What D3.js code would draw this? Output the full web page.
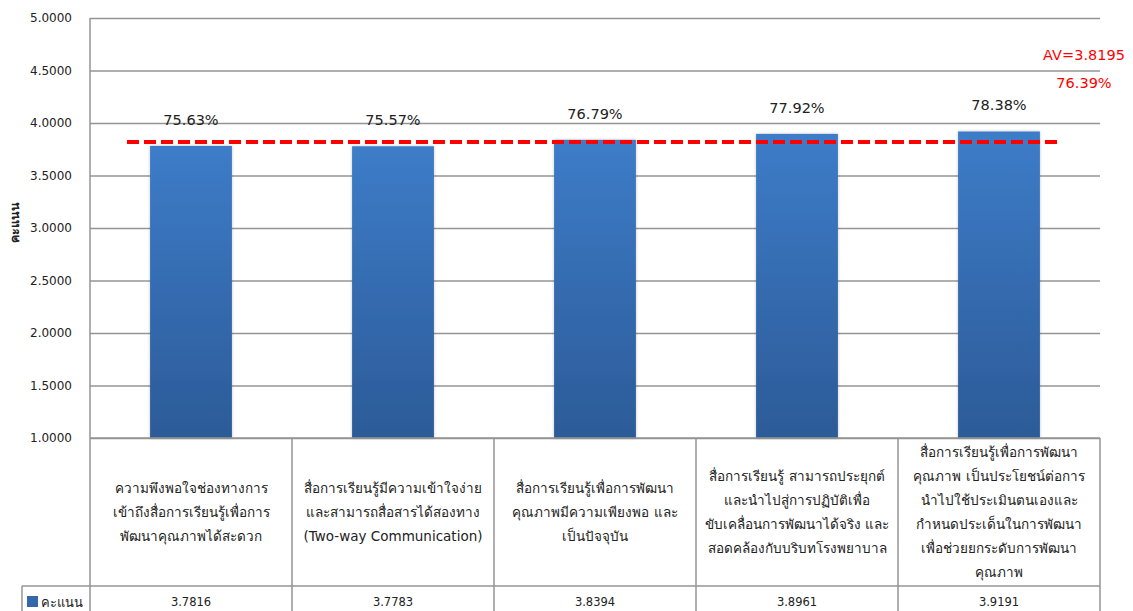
<!DOCTYPE html>
<html>
<head>
<meta charset="utf-8">
<script src="https://cdn.jsdelivr.net/npm/d3@7"></script>
<style>
  html, body { margin: 0; padding: 0; background: #ffffff; }
  svg { display: block; font-family: Tahoma, "DejaVu Sans", "Noto Sans", sans-serif; }
</style>
</head>
<body>
<svg id="chart" width="1133" height="611"></svg>
<script>
// Satisfaction scores per learning-media item (5-point scale)
const categories = [
  ["ความพึงพอใจช่องทางการ", "เข้าถึงสื่อการเรียนรู้เพื่อการ", "พัฒนาคุณภาพได้สะดวก"],
  ["สื่อการเรียนรู้มีความเข้าใจง่าย", "และสามารถสื่อสารได้สองทาง", "(Two-way Communication)"],
  ["สื่อการเรียนรู้เพื่อการพัฒนา", "คุณภาพมีความเพียงพอ และ", "เป็นปัจจุบัน"],
  ["สื่อการเรียนรู้ สามารถประยุกต์", "และนำไปสู่การปฏิบัติเพื่อ", "ขับเคลื่อนการพัฒนาได้จริง และ", "สอดคล้องกับบริบทโรงพยาบาล"],
  ["สื่อการเรียนรู้เพื่อการพัฒนา", "คุณภาพ เป็นประโยชน์ต่อการ", "นำไปใช้ประเมินตนเองและ", "กำหนดประเด็นในการพัฒนา", "เพื่อช่วยยกระดับการพัฒนา", "คุณภาพ"]
];
const values = [3.7816, 3.7783, 3.8394, 3.8961, 3.9191];
const valueLabels = ["3.7816", "3.7783", "3.8394", "3.8961", "3.9191"];
const percentLabels = ["75.63%", "75.57%", "76.79%", "77.92%", "78.38%"];
const yTicks = [1.0, 1.5, 2.0, 2.5, 3.0, 3.5, 4.0, 4.5, 5.0];
const seriesName = "คะแนน";
const average = 3.8195;
const averageLabel = "AV=3.8195";
const averagePercent = "76.39%";

const svg = d3.select("#chart");
const plotLeft = 90, plotRight = 1100, plotTop = 18, plotBottom = 438;
const tableRow = 586, tableBottom = 611, legendLeft = 22;

const y = d3.scaleLinear().domain([1, 5]).range([plotBottom, plotTop]);
const x = d3.scaleBand().domain(d3.range(categories.length)).range([plotLeft, plotRight]).padding(0);
const barW = x.bandwidth() * 0.405;

const defs = svg.append("defs");
const grad = defs.append("linearGradient").attr("id", "barFill")
  .attr("x1", 0).attr("y1", 0).attr("x2", 0).attr("y2", 1);
grad.append("stop").attr("offset", "0%").attr("stop-color", "#3d7cc8");
grad.append("stop").attr("offset", "100%").attr("stop-color", "#2c5b98");
const shadow = defs.append("filter").attr("id", "barShadow")
  .attr("x", "-20%").attr("y", "-5%").attr("width", "140%").attr("height", "110%");
shadow.append("feDropShadow").attr("dx", 0).attr("dy", 0)
  .attr("stdDeviation", 1.6).attr("flood-color", "#000").attr("flood-opacity", 0.25);

const gridColor = "#959595";

// Horizontal gridlines + y axis labels
const yAxis = d3.axisLeft(y).tickValues(yTicks).tickFormat(d3.format(".4f"))
  .tickSize(-(plotRight - plotLeft)).tickPadding(18);
const gy = svg.append("g").attr("transform", `translate(${plotLeft},0)`).call(yAxis);
gy.select(".domain").remove();
gy.selectAll(".tick line").attr("stroke", gridColor).attr("stroke-width", 1.5);
gy.selectAll(".tick text").attr("fill", "#222").attr("font-size", 12)
  .attr("font-family", "'DejaVu Sans', sans-serif");

// Vertical axis line continuing through the table
svg.append("line").attr("x1", plotLeft).attr("x2", plotLeft).attr("y1", plotTop).attr("y2", tableBottom)
  .attr("stroke", gridColor).attr("stroke-width", 1.5);

// Y axis title
svg.append("text").attr("transform", `translate(14,222) rotate(-90)`)
  .attr("text-anchor", "middle").attr("dominant-baseline", "central")
  .attr("font-size", 12.5).attr("font-weight", "bold").attr("fill", "#222")
  .text(seriesName);

// Bars
svg.append("g").selectAll("rect").data(values).join("rect")
  .attr("x", (d, i) => x(i) + (x.bandwidth() - barW) / 2)
  .attr("y", d => y(d))
  .attr("width", barW)
  .attr("height", d => y(1) - y(d))
  .attr("fill", "url(#barFill)")
  .attr("filter", "url(#barShadow)");

// Redraw baseline over bar shadows
svg.append("line").attr("x1", plotLeft).attr("x2", plotRight).attr("y1", plotBottom).attr("y2", plotBottom)
  .attr("stroke", gridColor).attr("stroke-width", 1.5);

// Percentage labels above bars
svg.append("g").selectAll("text").data(values).join("text")
  .attr("x", (d, i) => x(i) + x.bandwidth() / 2)
  .attr("y", d => y(d) - 21)
  .attr("text-anchor", "middle").attr("font-size", 14.5).attr("fill", "#222")
  .attr("font-family", "'DejaVu Sans', sans-serif")
  .text((d, i) => percentLabels[i]);

// Average line
svg.append("line")
  .attr("x1", 127).attr("x2", 1060)
  .attr("y1", y(average)).attr("y2", y(average))
  .attr("stroke", "#ff0000").attr("stroke-width", 4)
  .attr("stroke-dasharray", "12,5");

svg.append("text").attr("x", 1084).attr("y", 60).attr("text-anchor", "middle")
  .attr("font-size", 14.5).attr("fill", "#ff0000")
  .attr("font-family", "'DejaVu Sans', sans-serif").text(averageLabel);
svg.append("text").attr("x", 1084).attr("y", 88).attr("text-anchor", "middle")
  .attr("font-size", 14.5).attr("fill", "#ff0000")
  .attr("font-family", "'DejaVu Sans', sans-serif").text(averagePercent);

// Data table: category header cells and value row
const table = svg.append("g");
d3.range(1, categories.length + 1).forEach(i => {
  const xx = i < categories.length ? x(i) : plotRight;
  table.append("line").attr("x1", xx).attr("x2", xx).attr("y1", plotBottom).attr("y2", tableBottom)
    .attr("stroke", gridColor).attr("stroke-width", 1.5);
});
table.append("line").attr("x1", legendLeft).attr("x2", plotRight).attr("y1", tableRow).attr("y2", tableRow)
  .attr("stroke", gridColor).attr("stroke-width", 1.5);
table.append("line").attr("x1", legendLeft).attr("x2", legendLeft).attr("y1", tableRow).attr("y2", tableBottom)
  .attr("stroke", gridColor).attr("stroke-width", 1.5);

const lineH = 24;
const headerMid = (plotBottom + tableRow) / 2;
categories.forEach((lines, i) => {
  const cx = x(i) + x.bandwidth() / 2;
  const startY = headerMid - (lines.length - 1) * lineH / 2;
  const t = table.append("text").attr("text-anchor", "middle")
    .attr("font-size", 13.5).attr("fill", "#222");
  lines.forEach((ln, j) => {
    t.append("tspan").attr("x", cx).attr("y", startY + j * lineH)
      .attr("dominant-baseline", "central").text(ln);
  });
});

table.selectAll(".val").data(valueLabels).join("text").attr("class", "val")
  .attr("x", (d, i) => x(i) + x.bandwidth() / 2)
  .attr("y", 602).attr("text-anchor", "middle").attr("dominant-baseline", "central")
  .attr("font-size", 11.5).attr("fill", "#222")
  .attr("font-family", "'DejaVu Sans', sans-serif")
  .text(d => d);

// Legend key in the value row
table.append("rect").attr("x", 27).attr("y", 596).attr("width", 11).attr("height", 11)
  .attr("fill", "#3567ad");
table.append("text").attr("x", 41).attr("y", 602).attr("dominant-baseline", "central")
  .attr("font-size", 13).attr("fill", "#222").text(seriesName);
</script>
</body>
</html>
